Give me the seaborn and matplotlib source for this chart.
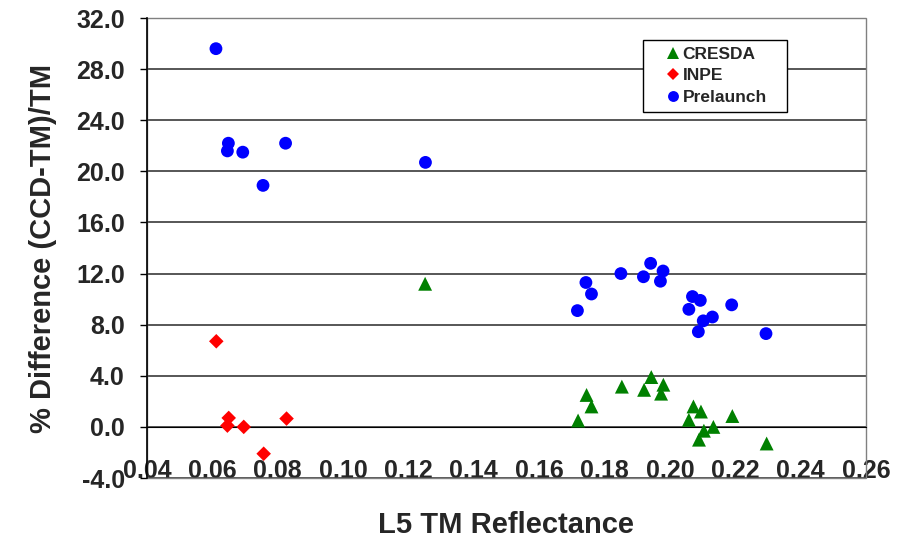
import pandas as pd
import matplotlib.pyplot as plt
import seaborn as sns
from matplotlib.patches import Rectangle
from matplotlib.ticker import FormatStrFormatter, MultipleLocator

# Values
cresda_x = [0.1251, 0.1745, 0.1760, 0.1719, 0.1853, 0.1921, 0.1943, 0.1980, 0.1973,
            0.2072, 0.2095, 0.2058, 0.2133, 0.2104, 0.2089, 0.2191, 0.2296]
cresda_y = [11.2, 2.5, 1.6, 0.5, 3.15, 2.9, 3.9, 3.3, 2.6,
            1.6, 1.2, 0.55, 0.0, -0.3, -1.0, 0.85, -1.3]

inpe_x = [0.0612, 0.0650, 0.0646, 0.0696, 0.0827, 0.0757]
inpe_y = [6.7, 0.7, 0.1, 0.0, 0.65, -2.1]

prelaunch_x = [0.0611, 0.0649, 0.0646, 0.0693, 0.0824, 0.0755, 0.1252,
               0.1743, 0.1760, 0.1717, 0.1850, 0.1919, 0.1941, 0.1979, 0.1971,
               0.2069, 0.2093, 0.2058, 0.2130, 0.2102, 0.2087, 0.2189, 0.2294]
prelaunch_y = [29.6, 22.2, 21.6, 21.5, 22.2, 18.9, 20.7,
               11.3, 10.4, 9.1, 12.0, 11.75, 12.8, 12.2, 11.4,
               10.2, 9.9, 9.2, 8.6, 8.3, 7.45, 9.55, 7.3]

series = ['CRESDA', 'INPE', 'Prelaunch']
colors = {'CRESDA': '#008000', 'INPE': '#ff0000', 'Prelaunch': '#0000ff'}
markers = {'CRESDA': '^', 'INPE': 'D', 'Prelaunch': 'o'}
sizes = {'CRESDA': 100, 'INPE': 55, 'Prelaunch': 85}

df = pd.concat([
    pd.DataFrame({'x': cresda_x, 'y': cresda_y, 'series': 'CRESDA'}),
    pd.DataFrame({'x': inpe_x, 'y': inpe_y, 'series': 'INPE'}),
    pd.DataFrame({'x': prelaunch_x, 'y': prelaunch_y, 'series': 'Prelaunch'}),
])

sns.set_style('white')
plt.rcParams['font.family'] = ['Liberation Sans', 'DejaVu Sans']
plt.rcParams['font.weight'] = 'bold'

fig = plt.figure(figsize=(9.1, 5.45), dpi=100)
ax = fig.add_axes([147 / 910, 1 - 478 / 545, 719 / 910, 460 / 545])

sns.scatterplot(data=df, x='x', y='y', hue='series', style='series', size='series',
                hue_order=series, style_order=series, size_order=series,
                palette=colors, markers=markers, sizes=sizes,
                linewidth=0, ax=ax, zorder=3)

ax.set_xlim(0.04, 0.26)
ax.set_ylim(-4, 32)
ax.xaxis.set_major_locator(MultipleLocator(0.02))
ax.yaxis.set_major_locator(MultipleLocator(4))
ax.xaxis.set_major_formatter(FormatStrFormatter('%.2f'))
ax.yaxis.set_major_formatter(FormatStrFormatter('%.1f'))

# horizontal grid only
ax.grid(axis='y', color='#3a3a3a', linewidth=1.2)
ax.grid(axis='x', visible=False)
ax.set_axisbelow(True)

# x axis crosses at 0, gray frame around plot area
ax.spines['bottom'].set_position(('data', 0))
ax.spines['bottom'].set_color('black')
ax.spines['left'].set_color('black')
ax.spines['left'].set_linewidth(1.2)
for s in ['top', 'right']:
    ax.spines[s].set_visible(False)
ax.add_patch(Rectangle((0, 0), 1, 1, transform=ax.transAxes, fill=False,
                       edgecolor='#808080', linewidth=1.0, clip_on=False, zorder=1))

ax.tick_params(axis='x', direction='out', length=5, width=1, color='black',
               pad=18, labelsize=18)
ax.tick_params(axis='y', direction='out', length=5, width=1, color='black',
               pad=11, labelsize=18, left=True)
for lab in ax.get_xticklabels() + ax.get_yticklabels():
    lab.set_fontweight('bold')

ax.set_xlabel('L5 TM Reflectance', fontsize=21, fontweight='bold')
ax.set_ylabel('% Difference (CCD-TM)/TM', fontsize=21, fontweight='bold')
ax.xaxis.set_label_coords(0.5, -0.102)
ax.xaxis.label.set_va('center')
ax.yaxis.set_label_coords(-0.145, 0.5)
ax.yaxis.label.set_va('center')

# legend box placed where the reference has it
handles, labels = ax.get_legend_handles_labels()
leg = ax.legend(handles, labels, loc='upper left',
                bbox_to_anchor=(0.6895, 0.6, 0.201, 0.353), mode='expand',
                frameon=True, fancybox=False, shadow=False, edgecolor='black',
                framealpha=1, markerscale=0.85, handlelength=2.7,
                handletextpad=-0.8, borderpad=0.4, labelspacing=0.38,
                borderaxespad=0, prop={'weight': 'bold', 'size': 12.5})
leg.get_frame().set_linewidth(1.0)
leg.set_zorder(5)

fig.savefig('out.png', dpi=100)
